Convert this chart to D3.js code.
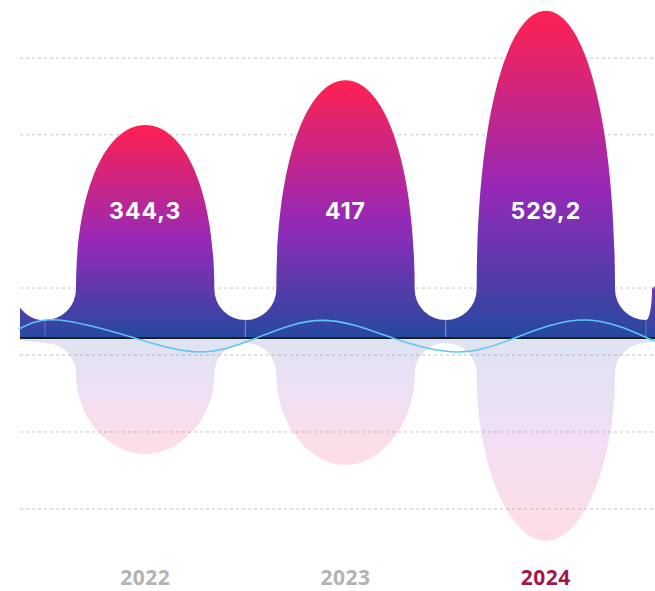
<!DOCTYPE html>
<html>
<head>
<meta charset="utf-8">
<script src="https://cdn.jsdelivr.net/npm/d3@7/dist/d3.min.js"></script>
<style>
  html, body { margin: 0; padding: 0; background: #ffffff; }
  svg { display: block; }
</style>
</head>
<body>
<div id="chart"></div>
<script>
// ---------------- data ----------------
const years = ["2022", "2023", "2024"];
const topValues = [344.3, 417, 529.2];
const topLabels = ["344,3", "417", "529,2"];
const bottomValues = [187.6, 205.3, 328.2];
const highlightYear = "2024";
const gridValues = [452.7, 328.7, 80.8, -27.5, -152, -276.5];
const valleyTop = 29;      // depth of the valleys between upper columns
const valleyBottom = -8;   // depth of the valleys between lower columns
const edgeBottom = -4;
// decorative wave (position in category units, value)
const waveIndex  = [-0.63, -0.43, -0.053, 0.271, 0.556, 0.885, 1.235, 1.559, 1.844, 2.203, 2.507, 2.56];
const waveValues = [14.6, 29, 0, -22.6, 0, 28.5, 0, -22.6, 0, 29, 0, -3];

// ---------------- layout ----------------
const W = 655, H = 591;
const plotLeft = 20, plotRight = 655;
const baseY = 338;
const pxPerUnit = 0.6183;
const holeR = 31;
const KA = 0.62, KB = 0.55;

const svg = d3.select("#chart").append("svg").attr("width", W).attr("height", H);
const defs = svg.append("defs");

const x = d3.scaleBand().domain(years).range([45, 646]).padding(0);
const bw = x.bandwidth();
const xc = d3.scaleLinear().domain([0, 2]).range([x(years[0]) + bw / 2, x(years[2]) + bw / 2]);
const y = d3.scaleLinear().domain([0, 500]).range([baseY, baseY - 500 * pxPerUnit]);
const y0 = y(0);

// gradients
const gTop = defs.append("linearGradient").attr("id", "gTop")
  .attr("x1", 0).attr("y1", 0).attr("x2", 0).attr("y2", 1);
[[0, "#ff2151"], [0.55, "#9529b8"], [1, "#2649a0"]].forEach(s =>
  gTop.append("stop").attr("offset", s[0]).attr("stop-color", s[1]));

const gBot = defs.append("linearGradient").attr("id", "gBot")
  .attr("x1", 0).attr("y1", 0).attr("x2", 0).attr("y2", 1);
[[0, "#2649a0"], [0.45, "#9529b8"], [1, "#ff2151"]].forEach(s =>
  gBot.append("stop").attr("offset", s[0]).attr("stop-color", s[1]).attr("stop-opacity", 0.15));

const gEdge = defs.append("linearGradient").attr("id", "gEdge")
  .attr("gradientUnits", "userSpaceOnUse")
  .attr("x1", 0).attr("y1", y(valleyTop) - holeR - 10).attr("x2", 0).attr("y2", y0);
[[0, "#7a36b4"], [1, "#2649a0"]].forEach(s =>
  gEdge.append("stop").attr("offset", s[0]).attr("stop-color", s[1]));

// grid lines
svg.append("g").selectAll("line").data(gridValues).join("line")
  .attr("x1", plotLeft).attr("x2", plotRight)
  .attr("y1", d => y(d)).attr("y2", d => y(d))
  .attr("stroke", "#c4c4c4").attr("stroke-width", 1)
  .attr("stroke-dasharray", "3,3");

// ---- upper columns ----
const yv = y(valleyTop), yc = yv - holeR;
function topPath(d, i) {
  const b0 = x(years[i]), b1 = b0 + bw, cx = b0 + bw / 2;
  const L = b0 + holeR, R = b1 - holeR, w = cx - L;
  const yt = y(d);
  let s = `M${b0},${y0}L${b0},${yv}`;
  s += `A${holeR},${holeR} 0 0 0 ${L},${yc}`;
  s += `C${L},${yc - KA * (yc - yt)} ${cx - KB * w},${yt} ${cx},${yt}`;
  s += `C${cx + KB * w},${yt} ${R},${yc - KA * (yc - yt)} ${R},${yc}`;
  s += `A${holeR},${holeR} 0 0 0 ${b1},${yv}`;
  s += `L${b1},${y0}Z`;
  return s;
}
svg.append("g").selectAll("path").data(topValues).join("path")
  .attr("d", topPath).attr("fill", "url(#gTop)");

// upper edges (partial shapes cut by the plot area)
{
  const b0 = x(years[0]);
  const dx = b0 - plotLeft;
  const ey = yc + Math.sqrt(holeR * holeR - dx * dx);
  svg.append("path")
    .attr("d", `M${plotLeft},${y0}L${plotLeft},${ey}A${holeR},${holeR} 0 0 0 ${b0},${yv}L${b0},${y0}Z`)
    .attr("fill", "url(#gEdge)");
  const b1 = x(years[2]) + bw;
  const rx = 6;
  svg.append("path")
    .attr("d", `M${b1},${y0}L${b1},${yv}A${rx},${holeR} 0 0 0 ${b1 + rx},${yc}L${plotRight},${yc - 3}L${plotRight},${y0}Z`)
    .attr("fill", "url(#gEdge)");
}

// faint separators at category boundaries
const bounds = years.map(yr => x(yr)).concat([x(years[2]) + bw]);
svg.append("g").selectAll("line").data(bounds).join("line")
  .attr("x1", d => d).attr("x2", d => d)
  .attr("y1", yv).attr("y2", y0)
  .attr("stroke", "#ffffff").attr("stroke-opacity", 0.18).attr("stroke-width", 1.5);

// ---- lower columns ----
const yv2 = y(valleyBottom), yc2 = yv2 + holeR;
function botPath(d, i) {
  const b0 = x(years[i]), b1 = b0 + bw, cx = b0 + bw / 2;
  const L = b0 + holeR, R = b1 - holeR, w = cx - L;
  const yb = y(-d);
  let s = `M${b0},${y0}L${b0},${yv2}`;
  s += `A${holeR},${holeR} 0 0 1 ${L},${yc2}`;
  s += `C${L},${yc2 + 0.552 * (yb - yc2)} ${cx - 0.52 * w},${yb} ${cx},${yb}`;
  s += `C${cx + 0.52 * w},${yb} ${R},${yc2 + 0.552 * (yb - yc2)} ${R},${yc2}`;
  s += `A${holeR},${holeR} 0 0 1 ${b1},${yv2}`;
  s += `L${b1},${y0}Z`;
  return s;
}
svg.append("g").selectAll("path").data(bottomValues).join("path")
  .attr("d", botPath).attr("fill", "url(#gBot)");
{
  const b0 = x(years[0]);
  const b1 = x(years[2]) + bw;
  svg.append("path")
    .attr("d", `M${plotLeft},${y0}L${plotLeft},${y(edgeBottom)}L${b0},${yv2}L${b0},${y0}Z`)
    .attr("fill", "#2649a0").attr("fill-opacity", 0.15);
  svg.append("path")
    .attr("d", `M${b1},${y0}L${b1},${yv2}L${plotRight},${y(edgeBottom)}L${plotRight},${y0}Z`)
    .attr("fill", "#2649a0").attr("fill-opacity", 0.15);
}

// baseline
svg.append("line")
  .attr("x1", plotLeft).attr("x2", plotRight)
  .attr("y1", y0).attr("y2", y0)
  .attr("stroke", "#1e1e1e").attr("stroke-width", 2.2);

// wave
const wave = d3.line()
  .x((d, i) => xc(waveIndex[i]))
  .y(d => y(d))
  .curve(d3.curveNatural);
svg.append("path").datum(waveValues)
  .attr("d", wave)
  .attr("fill", "none").attr("stroke", "#5cc6f6").attr("stroke-width", 1.6);

// value labels
svg.append("g").selectAll("text").data(topLabels).join("text")
  .attr("x", (d, i) => x(years[i]) + bw / 2)
  .attr("y", 219)
  .attr("text-anchor", "middle")
  .attr("fill", "#ffffff")
  .style("font-family", "Inter, 'Open Sans', sans-serif")
  .style("font-weight", 700)
  .style("font-size", "23px")
  .style("letter-spacing", "1px")
  .text(d => d);

// year labels
svg.append("g").selectAll("text").data(years).join("text")
  .attr("x", d => x(d) + bw / 2)
  .attr("y", 585)
  .attr("text-anchor", "middle")
  .attr("fill", d => d === highlightYear ? "#a3164f" : "#b3b3b3")
  .style("font-family", "'Open Sans', sans-serif")
  .style("font-weight", 700)
  .style("font-size", "21px")
  .style("letter-spacing", "0.5px")
  .text(d => d);
</script>
</body>
</html>
